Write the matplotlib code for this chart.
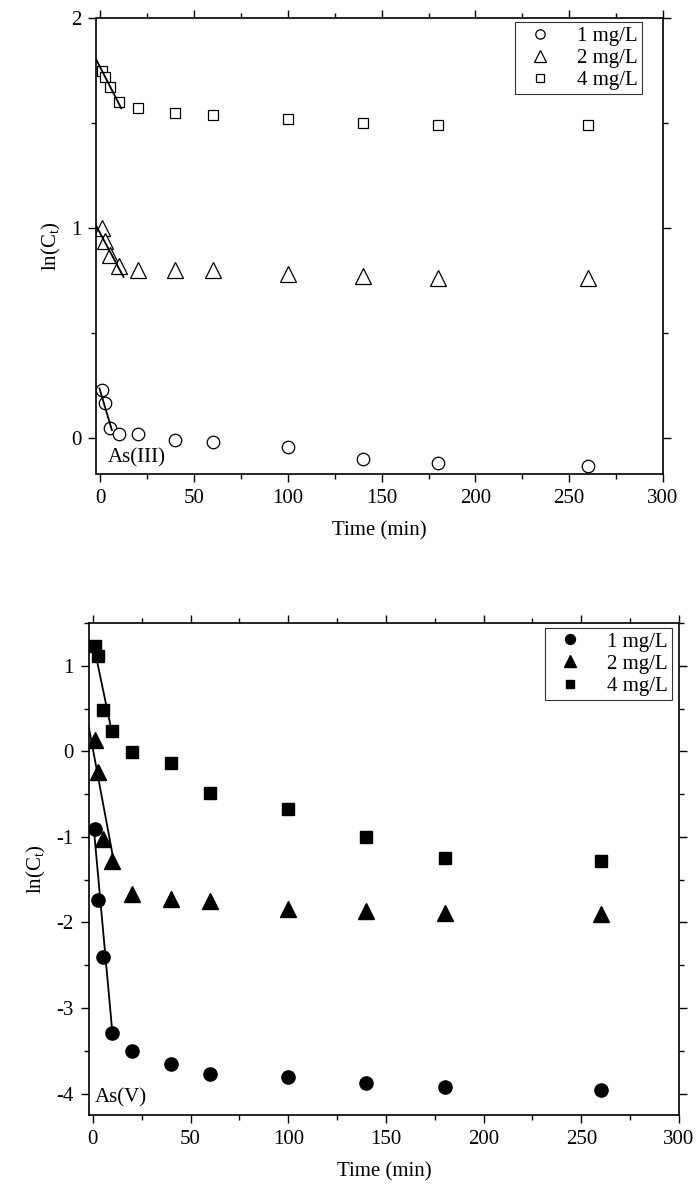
import matplotlib
matplotlib.use("Agg")
import matplotlib.pyplot as plt
import numpy as np
from matplotlib.ticker import MultipleLocator

plt.rcParams['font.family'] = ['Liberation Serif', 'DejaVu Serif']
plt.rcParams['mathtext.fontset'] = 'custom'
plt.rcParams['mathtext.rm'] = 'Liberation Serif'
plt.rcParams['mathtext.it'] = 'Liberation Serif:italic'
plt.rcParams['axes.unicode_minus'] = False

# ---- data ----
time_min = [1, 2.5, 5, 10, 20, 40, 60, 100, 140, 180, 260]
legend_labels = ["1 mg/L", "2 mg/L", "4 mg/L"]

# As(III)
as3_1 = [0.23, 0.17, 0.05, 0.02, 0.02, -0.01, -0.02, -0.04, -0.10, -0.12, -0.13]
as3_2 = [1.00, 0.94, 0.87, 0.82, 0.80, 0.80, 0.80, 0.78, 0.77, 0.765, 0.765]
as3_4 = [1.75, 1.72, 1.67, 1.60, 1.57, 1.55, 1.54, 1.52, 1.50, 1.49, 1.49]

# As(V)
as5_1 = [-0.91, -1.74, -2.40, -3.29, -3.50, -3.65, -3.77, -3.81, -3.88, -3.92, -3.96]
as5_2 = [0.13, -0.24, -1.03, -1.28, -1.67, -1.73, -1.75, -1.84, -1.87, -1.89, -1.90]
as5_4 = [1.23, 1.12, 0.48, 0.24, -0.01, -0.14, -0.49, -0.67, -1.00, -1.25, -1.28]

# linear fits: (intercept, slope, t_start, t_end)
as3_fits = [(0.225, -0.030, -0.4, 6.2), (0.975, -0.0167, -2.0, 12.4), (1.765, -0.0174, -2.0, 11.2)]
as5_fits = [(-0.787, -0.251, 0.5, 9.9), (0.026, -0.1226, -2.2, 10.2), (1.287, -0.1095, 0.5, 9.4)]

FS = 15

W, H = 700, 1198
fig = plt.figure(figsize=(7.0, 11.98), dpi=100)

def px_axes(l, r, t, b):
    return [l / W, 1 - b / H, (r - l) / W, (b - t) / H]

ax1 = fig.add_axes(px_axes(96.5, 663, 18, 474))
ax2 = fig.add_axes(px_axes(89, 679, 623, 1115))

def style(ax):
    ax.set_xlim(-2, 300)
    ax.xaxis.set_major_locator(MultipleLocator(50))
    ax.xaxis.set_minor_locator(MultipleLocator(25))
    ax.yaxis.set_major_locator(MultipleLocator(1))
    ax.yaxis.set_minor_locator(MultipleLocator(0.5))
    ax.tick_params(which='both', direction='out', top=True, right=True,
                   labeltop=False, labelright=False, labelsize=FS, width=1.0, pad=5)
    ax.tick_params(which='major', length=6)
    ax.tick_params(which='minor', length=3.5)
    for s in ax.spines.values():
        s.set_linewidth(1.2)
    ax.set_xlabel("Time (min)", fontsize=FS, labelpad=9)
    ax.set_ylabel(r"ln(C$_{\mathregular{t}}$)", fontsize=FS, labelpad=6)

def legend(ax, anchor):
    leg = ax.legend(loc='upper right', bbox_to_anchor=anchor, bbox_transform=ax.transAxes,
                    fontsize=FS, frameon=True, fancybox=False, edgecolor='black',
                    markerscale=0.75, handlelength=2.0, handletextpad=0.8,
                    labelspacing=0.12, borderpad=0.2, borderaxespad=0.0)
    leg.get_frame().set_linewidth(0.8)
    return leg

# top panel
mk_open = dict(mfc='white', mec='black', mew=0.9, ls='none')
ax1.plot(time_min, as3_1, marker='o', ms=9, label=legend_labels[0], **mk_open)
ax1.plot(time_min, as3_2, marker='^', ms=11, label=legend_labels[1], **mk_open)
ax1.plot(time_min, as3_4, marker='s', ms=7.5, label=legend_labels[2], **mk_open)
for a, b, t0, t1 in as3_fits:
    tt = np.array([t0, t1])
    ax1.plot(tt, a + b * tt, color='black', lw=1.3, zorder=3)
ax1.set_ylim(-0.17, 2)
style(ax1)
ax1.text(0.02, 0.015, "As(III)", transform=ax1.transAxes, fontsize=FS, ha='left', va='bottom')
legend(ax1, (0.963, 0.991))

# bottom panel
mk_fill = dict(color='black', ls='none')
ax2.plot(time_min, as5_1, marker='o', ms=9.5, label=legend_labels[0], **mk_fill)
ax2.plot(time_min, as5_2, marker='^', ms=11.5, label=legend_labels[1], **mk_fill)
ax2.plot(time_min, as5_4, marker='s', ms=8, label=legend_labels[2], **mk_fill)
for a, b, t0, t1 in as5_fits:
    tt = np.array([t0, t1])
    ax2.plot(tt, a + b * tt, color='black', lw=1.3, zorder=3)
ax2.set_ylim(-4.25, 1.5)
style(ax2)
ax2.text(0.01, 0.015, "As(V)", transform=ax2.transAxes, fontsize=FS, ha='left', va='bottom')
legend(ax2, (0.988, 0.990))

fig.savefig("out.png", dpi=100)
